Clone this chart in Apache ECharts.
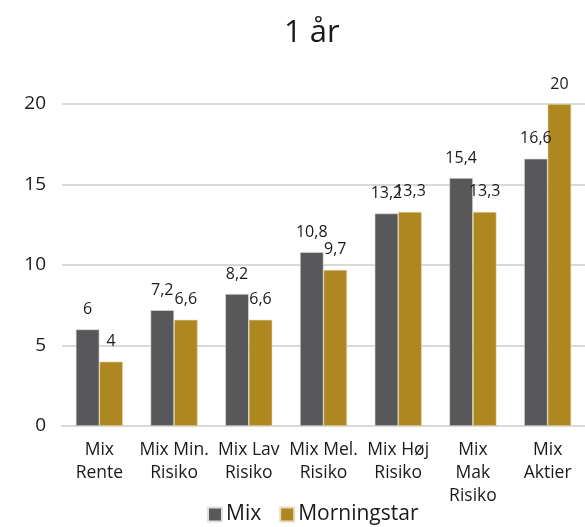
<!DOCTYPE html>
<html><head><meta charset="utf-8">
<script src="https://cdn.jsdelivr.net/npm/echarts@6/dist/echarts.min.js"></script>
<style>html,body{margin:0;padding:0;background:#fff}#c{width:585px;height:527px}</style>
</head><body><div id="c"></div>
<script>
const categories = ["Mix\nRente", "Mix Min.\nRisiko", "Mix Lav\nRisiko", "Mix Mel.\nRisiko", "Mix Høj\nRisiko", "Mix\nMak\nRisiko", "Mix\nAktier"];
const mixValues = [6, 7.2, 8.2, 10.8, 13.2, 15.4, 16.6];
const morningstarValues = [4, 6.6, 6.6, 9.7, 13.3, 13.3, 20];
const yTicks = [0, 5, 10, 15, 20];
const FONT = "'Open Sans', 'Noto Sans', sans-serif";
const fmt = p => String(p.value).replace('.', ',');
const chart = echarts.init(document.getElementById('c'));
chart.setOption({
  animation: false,
  title: { text: '1 år', left: 279, top: 13, textStyle: { fontFamily: FONT, fontSize: 31, fontWeight: 'normal', color: '#1a1a1a' } },
  legend: { bottom: -3, left: 202, itemWidth: 14, itemHeight: 14, itemGap: 18, icon: 'rect',
    textStyle: { fontFamily: FONT, fontSize: 21, color: '#1a1a1a', padding: [0, 0, 0, -1] }, data: ['Mix', 'Morningstar'] },
  grid: { left: 62, right: -1, top: 104, bottom: 101, containLabel: false },
  xAxis: { type: 'category', data: categories,
    axisLine: { lineStyle: { color: '#d9d9d9', width: 2 } }, axisTick: { show: false },
    axisLabel: { fontFamily: FONT, fontSize: 17.5, color: '#1a1a1a', lineHeight: 23, margin: 13, interval: 0 } },
  yAxis: { type: 'value', min: yTicks[0], max: yTicks[yTicks.length - 1], interval: 5,
    axisLine: { show: false }, axisTick: { show: false },
    splitLine: { lineStyle: { color: '#d9d9d9', width: 2 } },
    axisLabel: { fontFamily: FONT, fontSize: 19, color: '#1a1a1a', margin: 16 } },
  series: [
    { name: 'Mix', type: 'bar', data: mixValues, barGap: '0%', barCategoryGap: '37%',
      itemStyle: { color: '#58585a', borderColor: '#e0e0e0', borderWidth: 0.6 },
      label: { show: true, position: 'top', distance: 12, formatter: fmt, fontFamily: FONT, fontSize: 16, color: '#1a1a1a' } },
    { name: 'Morningstar', type: 'bar', data: morningstarValues,
      itemStyle: { color: '#ae8720', borderColor: '#e8dcc0', borderWidth: 0.6 },
      label: { show: true, position: 'top', distance: 12, formatter: fmt, fontFamily: FONT, fontSize: 16, color: '#1a1a1a' } }
  ]
});
</script></body></html>
